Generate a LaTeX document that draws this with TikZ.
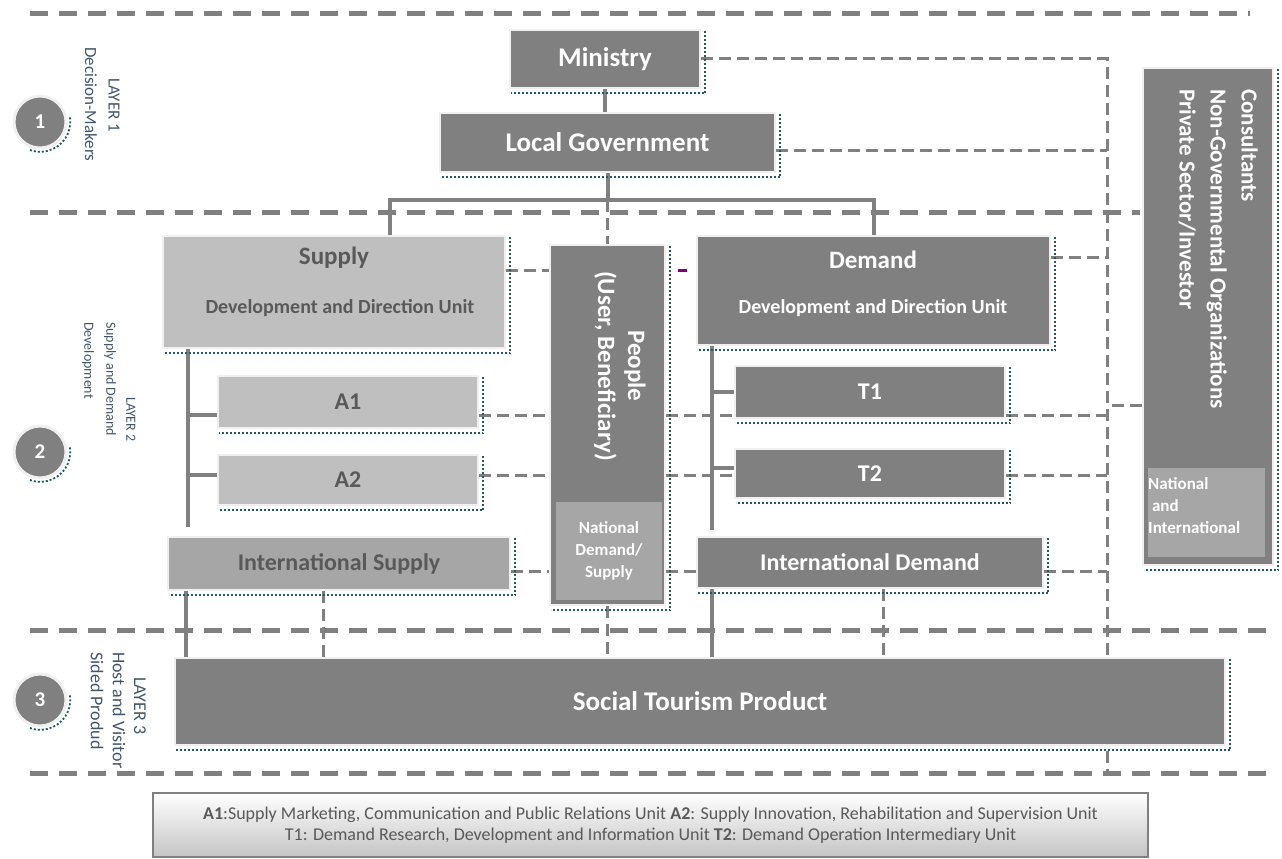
\documentclass[tikz,border=0pt]{standalone}
\usepackage{fontspec}
\setmainfont{Carlito}
\usetikzlibrary{calc}
\definecolor{dk}{HTML}{808080}
\definecolor{lt}{HTML}{BFBFBF}
\definecolor{md}{HTML}{A6A6A6}
\definecolor{halo}{HTML}{F0F0F0}
\definecolor{teal}{HTML}{215968}
\definecolor{txt}{HTML}{595959}
\definecolor{laytxt}{HTML}{44546A}
\definecolor{legbot}{HTML}{C4C4C4}
\newcommand\fs[1]{\fontsize{#1}{#1}\selectfont}
\newcommand\shd[1]{\draw[shadowline] ($(#1.north east)+(4,2)$) -- ($(#1.south east)+(4,4)$) -- ($(#1.south west)+(2,4)$);}
\begin{document}
\begin{tikzpicture}[x=1pt,y=-1pt,
  box/.style={draw=halo, line width=2.5pt, inner sep=0pt, align=center},
  dkbox/.style={box, fill=dk, text=white},
  ltbox/.style={box, fill=lt, text=txt},
  mdbox/.style={box, fill=md, text=white},
  shadowline/.style={draw=teal, line width=2pt, dash pattern=on 2pt off 2pt},
  solidc/.style={draw=dk, line width=4pt},
  dashc/.style={draw=dk, line width=3pt, dash pattern=on 12pt off 6pt},
  layerline/.style={draw=dk, line width=5pt, dash pattern=on 18pt off 11pt},
  laylab/.style={rotate=-90, anchor=west, text=laytxt, inner sep=0pt},
  circ/.style={circle, fill=dk, draw=halo, line width=3pt, minimum size=52pt, text=white, font=\bfseries\fs{21}},
  bt/.style={font=\bfseries\fs{27}},
  st/.style={font=\bfseries\fs{24}}
]
\useasboundingbox (0,0) rectangle (1282,859);

% layer separators
\draw[layerline] (30,14) -- (1250,14);
\draw[layerline] (30,212) -- (1140,212);
\draw[layerline] (30,630) -- (1268,630);
\draw[layerline] (30,773) -- (1268,773);

% layer markers
\node[circ] (c1) at (40,122) {1};
\node[circ] (c2) at (40,452) {2};
\node[circ] (c3) at (40,700) {3};
\foreach \c in {c1,c2,c3}{
  \draw[shadowline, line width=1.8pt] ($(\c.center)+(-10,28)$) arc[start angle=110, end angle=-10, radius=30];
}
\node[laylab, font=\fs{17}] (l1a) at (114,78) {LAYER 1};
\node[laylab, font=\fs{17}] (l1b) at (91,47) {Decision-Makers};
\node[laylab, font=\fs{14}] (l2a) at (131,397) {LAYER 2};
\node[laylab, font=\fs{14}] (l2b) at (110,322) {Supply and Demand};
\node[laylab, font=\fs{14}] (l2c) at (88,322) {Development};
\node[laylab, font=\fs{18}] (l3a) at (140,677) {LAYER 3};
\node[laylab, font=\fs{18}] (l3b) at (119,652) {Host and Visitor};
\node[laylab, font=\fs{18}] (l3c) at (97,652) {Sided Produd};

% bus line on the right
\coordinate (bus) at (1107,55);
\coordinate (busend) at (1107,773);

% boxes
\node[dkbox, bt, minimum width=190pt, minimum height=58pt] (ministry) at (605,59) {Ministry};
\node[dkbox, bt, minimum width=335pt, minimum height=59pt] (lg) at (607.5,142.5) {Local Government};
\node[ltbox, minimum width=342pt, minimum height=112pt] (supply) at (334,292) {};
\node[dkbox, minimum width=115pt, minimum height=360pt] (people) at (607.5,425) {};
\node[dkbox, minimum width=353pt, minimum height=109pt] (demand) at (873.5,290.5) {};
\node[ltbox, st, minimum width=260pt, minimum height=52pt] (a1) at (348,402) {A1};
\node[ltbox, st, minimum width=260pt, minimum height=50pt] (a2) at (348,480) {A2};
\node[mdbox, st, text=txt, minimum width=342pt, minimum height=53pt] (isup) at (339,563.5) {International Supply};
\node[dkbox, st, minimum width=270pt, minimum height=52pt] (t1) at (870,392) {T1};
\node[dkbox, st, minimum width=270pt, minimum height=49pt] (t2) at (870,473.5) {T2};
\node[dkbox, st, minimum width=346pt, minimum height=51pt] (idem) at (870,562.5) {International Demand};
\node[dkbox, minimum width=130pt, minimum height=497pt] (cons) at (1208,316.5) {};
\node[dkbox, bt, minimum width=1050pt, minimum height=87pt] (stp) at (700,701.5) {Social Tourism Product};

% connectors: solid hierarchy
\coordinate (jl) at (390,200);
\coordinate (jr) at (873.5,200);
\draw[solidc] (ministry.south) -- (ministry.south |- lg.north);
\draw[solidc] (lg.south) -- (lg.south |- jl);
\draw[solidc] (supply.north -| jl) -- (jl) -- (jr) -- (demand.north);
\draw[dashc] (lg.south |- jl) -- (lg.south |- people.north);

\coordinate (sv) at (188,527);
\draw[solidc] (supply.south -| sv) -- (sv);
\draw[solidc] ($(a1.west)+(0,13)$) -- ($(a1.west -| sv)+(0,13)$);
\draw[solidc] ($(a2.west)+(0,-5)$) -- ($(a2.west -| sv)+(0,-5)$);
\draw[solidc] (isup.south -| 186,0) -- (stp.north -| 186,0);

\coordinate (dv) at (712,530);
\draw[solidc] (demand.south -| dv) -- (dv);
\draw[solidc] (t1.west) -- (t1.west -| dv);
\draw[solidc] ($(t2.west)+(0,-6)$) -- ($(t2.west -| dv)+(0,-6)$);
\draw[solidc] (idem.south -| dv) -- (stp.north -| dv);

% dashed connectors
\draw[dashc] (ministry.east) -- (ministry.east -| bus) -- (busend);
\draw[dashc] ($(lg.east)+(0,8)$) -- ($(lg.east -| bus)+(0,8)$);
\draw[dashc] ($(demand.east)+(0,-33)$) -- ($(demand.east -| bus)+(0,-33)$);
\draw[dashc] ($(t1.east)+(0,23)$) -- ($(t1.east -| bus)+(0,23)$);
\draw[dashc] ($(cons.west |- t1.east)+(0,13)$) -- ($(t1.east -| bus)+(0,13)$);
\draw[dashc] ($(t2.east)+(0,1.5)$) -- ($(t2.east -| bus)+(0,1.5)$);
\draw[dashc] ($(idem.east)+(0,8.5)$) -- ($(idem.east -| bus)+(0,8.5)$);

\draw[dashc] ($(supply.east)+(0,-22)$) -- ($(supply.east -| people.west)+(0,-22)$);
\draw[dashc] ($(a1.east)+(0,13)$) -- ($(a1.east -| people.west)+(0,13)$);
\draw[dashc] ($(a2.east)+(0,-5)$) -- ($(a2.east -| people.west)+(0,-5)$);
\draw[dashc] ($(isup.east)+(0,7.5)$) -- ($(isup.east -| people.west)+(0,7.5)$);

\draw[dashc] ($(people.east |- t1.west)+(0,23)$) -- ($(t1.west)+(0,23)$);
\draw[dashc] ($(people.east |- t2.west)+(0,1.5)$) -- ($(t2.west)+(0,1.5)$);
\draw[dashc] ($(people.east |- idem.west)+(0,8.5)$) -- ($(idem.west)+(0,8.5)$);
\draw[draw=violet, line width=3pt] (678,270) -- (687,270);

\draw[dashc] (isup.south -| 323,0) -- (stp.north -| 323,0);
\draw[dashc] (people.south) -- (people.south |- stp.north);
\draw[dashc] (idem.south -| 883,0) -- (stp.north -| 883,0);

% redraw boxes that the dashed lines pass behind
\node[dkbox, st, minimum width=270pt, minimum height=52pt] at (t1) {T1};
\node[dkbox, minimum width=115pt, minimum height=360pt] at (people) {};
\node[dkbox, bt, minimum width=1050pt, minimum height=87pt] at (stp) {Social Tourism Product};

% box texts
\node[text=txt, font=\bfseries\fs{25}] (suptitle) at (334,258) {Supply};
\node[text=txt, font=\bfseries\fs{20}] (supsub) at (340,308) {Development and Direction Unit};
\node[text=white, font=\bfseries\fs{25}] (demtitle) at (873,260) {Demand};
\node[text=white, font=\bfseries\fs{20}] (demsub) at (873,308) {Development and Direction Unit};
\node[rotate=-90, text=white, font=\bfseries\fs{25}, align=center, inner sep=0pt] (peopletxt) at (620,366) {People\\[5pt](User, Beneficiary)};
\node[mdbox, minimum width=106pt, minimum height=98pt, line width=0pt, draw=none, font=\bfseries\fs{17}] (pnat) at (609,551) {National\\[5pt]Demand/\\[5pt]Supply};
\node[rotate=-90, anchor=north west, text=white, font=\bfseries\fs{23}, align=left, inner sep=0pt] (constxt) at (1258,89) {Consultants\\[8pt]Non-Governmental Organizations\\[8pt]Private Sector/Investor};
\node[mdbox, minimum width=117pt, minimum height=89pt, line width=0pt, draw=none] (cnat) at (1206.5,512.5) {};
\node[anchor=north west, text=white, font=\bfseries\fs{17}, align=left, inner sep=0pt] (cnattxt) at (1148,477) {National\\[5pt]\ and\\[5pt]International};

% shadows
\foreach \n in {ministry,lg,supply,people,demand,a1,a2,isup,t1,t2,idem,cons,stp}{\shd{\n}}

% legend
\node[draw=dk, line width=1.2pt, top color=white, bottom color=legbot, minimum width=995pt, minimum height=64pt, text=txt, font=\fs{18}, align=center, inner sep=0pt] (legend) at (650.5,825)
  {\textbf{A1}:Supply Marketing, Communication and Public Relations Unit \textbf{A2}: Supply Innovation, Rehabilitation and Supervision Unit\\[3pt]
   T1: Demand Research, Development and Information Unit \textbf{T2}: Demand Operation Intermediary Unit};
\draw[shadowline, line width=1.5pt] ($(legend.south west)+(1,3)$) -- ($(legend.south east)+(1,3)$);
\end{tikzpicture}
\end{document}
